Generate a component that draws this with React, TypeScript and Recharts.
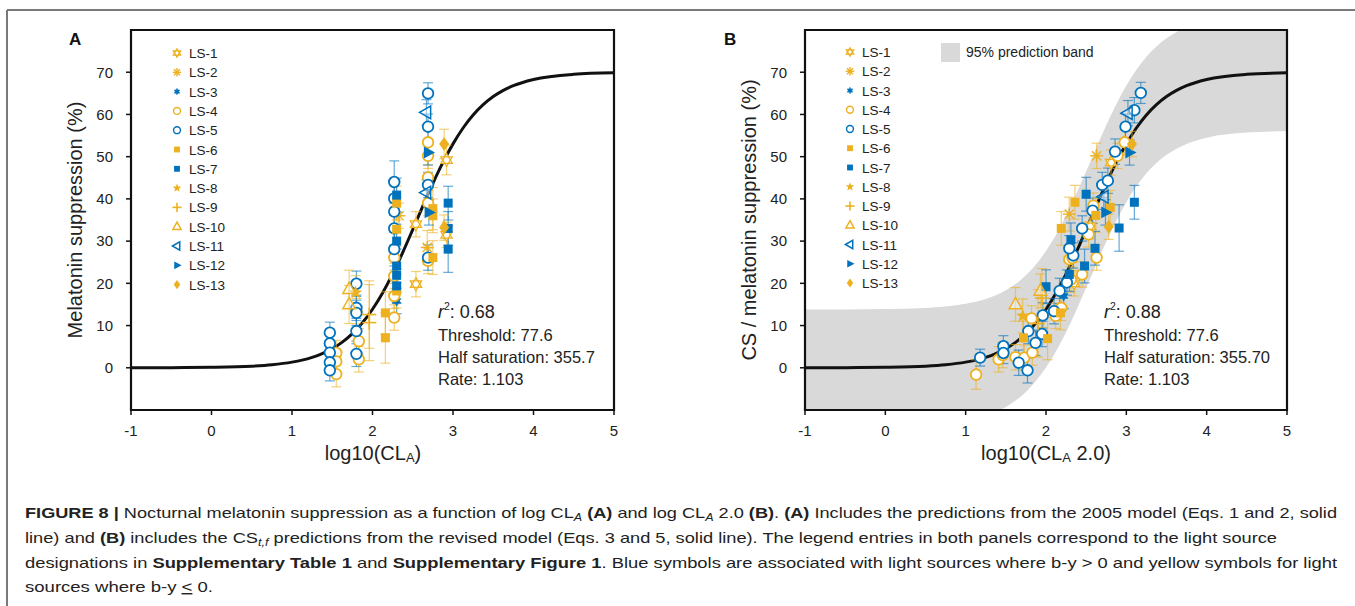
import React from 'react';
import { ComposedChart, Scatter, Line, Area, XAxis, YAxis, ErrorBar, ReferenceArea } from 'recharts';

const FONT = "'Liberation Sans', Arial, Helvetica, sans-serif";
const YELLOW = '#EDB120';
const BLUE = '#0072BD';

const X_TICKS = [-1, 0, 1, 2, 3, 4, 5];
const Y_TICKS = [0, 10, 20, 30, 40, 50, 60, 70];

// fitted curve (x = log10 CLA, y = suppression %)
const CURVE_X = [-1, -0.5, 0, 0.5, 0.75, 1, 1.125, 1.25, 1.375, 1.5, 1.625, 1.75, 1.875, 2, 2.125, 2.25, 2.375, 2.5, 2.625, 2.75, 2.875, 3, 3.125, 3.25, 3.375, 3.5, 3.625, 3.75, 4, 4.5, 5];
const CURVE_Y = [0.01, 0.03, 0.11, 0.38, 0.72, 1.34, 1.82, 2.48, 3.37, 4.54, 6.08, 8.09, 10.66, 13.86, 17.72, 22.24, 27.3, 32.74, 38.28, 43.67, 48.64, 53.03, 56.79, 59.86, 62.31, 64.23, 65.7, 66.82, 68.28, 69.51, 69.86];
// 95% prediction band (panel B)
const BAND_LOW = [-13.79, -13.77, -13.69, -13.42, -13.08, -12.46, -11.98, -11.32, -10.43, -9.26, -7.72, -5.71, -3.14, 0.06, 3.92, 8.44, 13.5, 18.94, 24.48, 29.87, 34.84, 39.23, 42.99, 46.06, 48.51, 50.43, 51.9, 53.02, 54.48, 55.71, 56.06];
const BAND_HIGH = [13.81, 13.83, 13.91, 14.18, 14.52, 15.14, 15.62, 16.28, 17.17, 18.34, 19.88, 21.89, 24.46, 27.66, 31.52, 36.04, 41.1, 46.54, 52.08, 57.47, 62.44, 66.83, 70.59, 73.66, 76.11, 78.03, 79.5, 80.62, 82.08, 83.31, 83.66];

const CURVE = CURVE_X.map((x, i) => ({ x, y: CURVE_Y[i] }));
const BAND = CURVE_X.map((x, i) => ({ x, band: [BAND_LOW[i], BAND_HIGH[i]] }));

type P = { x: number; y: number; e: number };
const pts = (a: number[][]): P[] => a.map(([x, y, e]) => ({ x, y, e }));

// Panel A data: [log10 CLA, suppression, error]
const LS1_A = pts([[2.54, 34.0, 3], [2.54, 19.8, 3], [2.92, 49.2, 3.5], [2.92, 31.5, 3]]);
const LS2_A = pts([[2.33, 36.0, 3], [2.68, 28.5, 4]]);
const LS3_A = pts([[2.3, 15.8, 3]]);
const LS4_A = pts([[1.55, 3.5, 3], [1.55, 1.5, 3], [1.55, -1.5, 3], [1.83, 6.3, 3], [1.83, 2.0, 3], [1.8, 13.4, 3], [2.27, 11.9, 3], [2.27, 17.0, 3], [2.27, 21.7, 3], [2.27, 26.1, 3], [2.69, 53.4, 3], [2.69, 50.2, 3], [2.69, 45.1, 3], [2.69, 39.0, 3], [2.69, 25.3, 3]]);
const LS5_A = pts([[1.47, 8.3, 2.5], [1.47, 5.8, 2.5], [1.47, 3.6, 2.5], [1.47, 1.3, 2.5], [1.47, -0.6, 2.5], [1.8, 19.9, 3], [1.8, 14.2, 3], [1.8, 13.0, 3], [1.8, 8.7, 3], [1.8, 3.3, 3], [2.27, 44.0, 5], [2.27, 40.1, 4], [2.27, 37.0, 4], [2.27, 33.0, 4], [2.27, 28.1, 4], [2.69, 65.0, 2.5], [2.69, 57.1, 3], [2.69, 43.3, 3], [2.69, 26.1, 3]]);
const LS6_A = pts([[2.16, 13.0, 5], [2.16, 7.1, 6], [2.3, 39.0, 4], [2.3, 32.8, 4], [2.3, 18.2, 4], [2.75, 37.7, 5], [2.75, 36.0, 4], [2.75, 26.1, 4]]);
const LS7_A = pts([[2.3, 40.9, 4], [2.3, 30.0, 4], [2.3, 24.1, 4], [2.3, 21.9, 4], [2.3, 19.4, 4], [2.94, 39.0, 4], [2.94, 33.0, 4], [2.94, 28.1, 5.5]]);
const LS8_A = pts([[1.79, 17.8, 4]]);
const LS9_A = pts([[1.96, 12.6, 8], [1.96, 10.7, 9]]);
const LS10_A = pts([[1.71, 18.6, 4.5], [1.71, 15.0, 4.5]]);
const LS11_A = pts([[2.67, 60.5, 3], [2.67, 41.5, 3]]);
const LS12_A = pts([[2.7, 36.8, 3], [2.69, 51.0, 3]]);
const LS13_A = pts([[2.89, 53.0, 3.5], [2.89, 33.2, 3]]);

// Panel B data: [log10 CLA 2.0, CS / suppression, error]
const LS1_B = pts([[2.81, 48.6, 3], [2.55, 33.5, 3], [2.35, 20.0, 3]]);
const LS2_B = pts([[2.29, 36.4, 4], [2.63, 50.2, 3]]);
const LS3_B = pts([[2.22, 17.0, 3]]);
const LS4_B = pts([[1.13, -1.6, 3.5], [1.41, 2.0, 3], [1.46, 3.0, 3], [1.62, 2.5, 3], [1.73, 2.4, 3], [1.83, 3.6, 3], [1.82, 11.7, 3], [2.12, 12.3, 3], [2.19, 14.2, 3], [2.31, 20.9, 3], [2.29, 25.7, 3], [2.33, 26.0, 3], [2.45, 22.1, 3], [2.63, 26.1, 3], [2.53, 31.6, 3], [2.59, 38.4, 3], [2.89, 50.2, 3], [2.98, 53.4, 3]]);
const LS5_B = pts([[1.18, 2.4, 2], [1.47, 5.1, 2.5], [1.47, 3.5, 2.5], [1.66, 1.2, 3], [1.77, -0.6, 3], [1.78, 8.7, 3], [1.87, 5.9, 3], [1.95, 8.0, 3], [1.96, 12.4, 3], [2.1, 13.4, 3], [2.17, 18.2, 3], [2.26, 20.2, 3], [2.34, 26.6, 3], [2.29, 28.3, 3], [2.45, 33.0, 3], [2.58, 37.2, 3], [2.7, 43.3, 3], [2.77, 44.3, 3], [2.86, 51.2, 3], [2.99, 57.1, 3], [3.1, 61.0, 3], [3.18, 65.1, 2.5]]);
const LS6_B = pts([[1.72, 7.1, 4], [2.02, 6.9, 5], [2.18, 13.0, 4], [2.19, 33.0, 4], [2.36, 39.2, 4], [2.62, 36.1, 4], [2.8, 38.0, 4]]);
const LS7_B = pts([[2.0, 19.2, 4], [2.29, 22.1, 4], [2.31, 30.3, 4], [2.48, 24.1, 4], [2.5, 41.1, 4], [2.61, 28.3, 4], [2.91, 33.1, 5.5], [3.1, 39.2, 4]]);
const LS8_B = pts([[1.71, 12.3, 4]]);
const LS9_B = pts([[1.9, 10.5, 8], [1.95, 16.5, 7]]);
const LS10_B = pts([[1.62, 15.0, 4], [1.93, 18.2, 4]]);
const LS11_B = pts([[2.72, 40.5, 3], [3.02, 60.3, 3]]);
const LS12_B = pts([[2.74, 36.8, 3], [3.04, 51.0, 3]]);
const LS13_B = pts([[2.78, 33.4, 3], [3.07, 53.0, 3]]);

const SERIES_NAMES = ['LS-1', 'LS-2', 'LS-3', 'LS-4', 'LS-5', 'LS-6', 'LS-7', 'LS-8', 'LS-9', 'LS-10', 'LS-11', 'LS-12', 'LS-13'];
const SERIES_COLORS = [YELLOW, YELLOW, BLUE, YELLOW, BLUE, YELLOW, BLUE, YELLOW, YELLOW, YELLOW, BLUE, BLUE, YELLOW];
const SERIES_KINDS = ['hexagram', 'burst', 'smallstar', 'circle', 'circle', 'square', 'square', 'star', 'plus', 'triUp', 'triLeft', 'triRight', 'diamond'];
const DATA_A = [LS1_A, LS2_A, LS3_A, LS4_A, LS5_A, LS6_A, LS7_A, LS8_A, LS9_A, LS10_A, LS11_A, LS12_A, LS13_A];
const DATA_B = [LS1_B, LS2_B, LS3_B, LS4_B, LS5_B, LS6_B, LS7_B, LS8_B, LS9_B, LS10_B, LS11_B, LS12_B, LS13_B];

function starPts(cx: number, cy: number, n: number, ro: number, ri: number, rot = -90) {
  const a: string[] = [];
  for (let i = 0; i < n * 2; i++) {
    const r = i % 2 === 0 ? ro : ri;
    const ang = ((rot + (i * 180) / n) * Math.PI) / 180;
    a.push(`${cx + r * Math.cos(ang)},${cy + r * Math.sin(ang)}`);
  }
  return a.join(' ');
}

function Marker({ kind, cx, cy, color, s = 1 }: { kind: string; cx: number; cy: number; color: string; s?: number }) {
  if (cx == null || cy == null || isNaN(cx) || isNaN(cy)) return <g />;
  switch (kind) {
    case 'hexagram': {
      const r = 6.5 * s;
      const t1 = `${cx},${cy - r} ${cx + r * 0.866},${cy + r / 2} ${cx - r * 0.866},${cy + r / 2}`;
      const t2 = `${cx},${cy + r} ${cx + r * 0.866},${cy - r / 2} ${cx - r * 0.866},${cy - r / 2}`;
      return (
        <g>
          <polygon points={starPts(cx, cy, 6, r, r * 0.577)} fill="#fff" stroke="none" />
          <polygon points={t1} fill="none" stroke={color} strokeWidth={1.3} />
          <polygon points={t2} fill="none" stroke={color} strokeWidth={1.3} />
        </g>
      );
    }
    case 'burst': {
      const r = 6.5 * s;
      const lines = [];
      for (let i = 0; i < 8; i++) {
        const ang = (i * Math.PI) / 4;
        lines.push(<line key={i} x1={cx} y1={cy} x2={cx + r * Math.cos(ang)} y2={cy + r * Math.sin(ang)} stroke={color} strokeWidth={1.4} />);
      }
      return <g>{lines}<circle cx={cx} cy={cy} r={2 * s} fill={color} /></g>;
    }
    case 'smallstar':
      return <polygon points={starPts(cx, cy, 6, 5 * s, 2.8 * s)} fill={color} stroke={color} strokeWidth={0.5} />;
    case 'circle':
      return <circle cx={cx} cy={cy} r={5.3 * s} fill="#fff" stroke={color} strokeWidth={1.8 * Math.max(s, 0.8)} />;
    case 'square': {
      const h = 4.5 * s;
      return <rect x={cx - h} y={cy - h} width={2 * h} height={2 * h} fill={color} />;
    }
    case 'star':
      return <polygon points={starPts(cx, cy, 5, 7 * s, 3 * s)} fill={color} />;
    case 'plus': {
      const r = 7 * s;
      return (
        <g>
          <line x1={cx - r} y1={cy} x2={cx + r} y2={cy} stroke={color} strokeWidth={1.6} />
          <line x1={cx} y1={cy - r} x2={cx} y2={cy + r} stroke={color} strokeWidth={1.6} />
        </g>
      );
    }
    case 'triUp': {
      const r = 7 * s;
      return <polygon points={`${cx},${cy - r} ${cx + r * 0.9},${cy + r * 0.6} ${cx - r * 0.9},${cy + r * 0.6}`} fill="#fff" fillOpacity={0.4} stroke={color} strokeWidth={1.5} />;
    }
    case 'triLeft': {
      const r = 7 * s;
      return <polygon points={`${cx - r},${cy} ${cx + r * 0.6},${cy - r * 0.9} ${cx + r * 0.6},${cy + r * 0.9}`} fill="#fff" fillOpacity={0.4} stroke={color} strokeWidth={1.5} />;
    }
    case 'triRight': {
      const r = 7 * s;
      return <polygon points={`${cx + r},${cy} ${cx - r * 0.6},${cy - r * 0.85} ${cx - r * 0.6},${cy + r * 0.85}`} fill={color} />;
    }
    case 'diamond': {
      const w = 5 * s, h = 7 * s;
      return <polygon points={`${cx},${cy - h} ${cx + w},${cy} ${cx},${cy + h} ${cx - w},${cy}`} fill={color} />;
    }
  }
  return <g />;
}

const TICK = { fontSize: 15, fill: '#222', fontFamily: FONT };

function Panel({ left, width, axisW, marginRight, data, band }: { left: number; width: number; axisW: number; marginRight: number; data: P[][]; band: boolean }) {
  return (
    <div style={{ position: 'absolute', left, top: 0 }}>
      <ComposedChart width={width} height={470} margin={{ top: 30, right: marginRight, bottom: 30, left: 0 }}>
        <XAxis type="number" dataKey="x" domain={[-1, 5]} ticks={X_TICKS} allowDataOverflow axisLine={false}
          tickSize={5} tickMargin={10} height={30} tick={TICK} tickLine={{ stroke: '#111', strokeWidth: 1.5 }} />
        <YAxis type="number" dataKey="y" domain={[-10, 80]} ticks={Y_TICKS} allowDataOverflow axisLine={false}
          width={axisW} tickSize={5} tickMargin={13} tick={TICK} tickLine={{ stroke: '#111', strokeWidth: 1.5 }} />
        {band && (
          <Area data={BAND} dataKey="band" type="monotone" fill="#d9d9d9" fillOpacity={1} stroke="none" isAnimationActive={false} />
        )}
        <Line data={CURVE} dataKey="y" type="monotone" stroke="#111" strokeWidth={3} dot={false} isAnimationActive={false} />
        {data.map((d, i) => (
          <Scatter key={SERIES_NAMES[i]} name={SERIES_NAMES[i]} data={d} isAnimationActive={false}
            shape={(p: any) => <Marker kind={SERIES_KINDS[i]} cx={p.cx} cy={p.cy} color={SERIES_COLORS[i]} />}>
            <ErrorBar dataKey="e" direction="y" width={5} stroke={SERIES_COLORS[i]} strokeOpacity={0.6} strokeWidth={1.2} />
          </Scatter>
        ))}
        <ReferenceArea x1={-1} x2={5} y1={-10} y2={80} fill="none" stroke="#111" strokeWidth={2.2} ifOverflow="visible" />
      </ComposedChart>
    </div>
  );
}

function Legend({ mx, tx, y0, dy }: { mx: number; tx: number; y0: number; dy: number }) {
  return (
    <g>
      {SERIES_NAMES.map((n, i) => (
        <g key={n}>
          <Marker kind={SERIES_KINDS[i]} cx={mx} cy={y0 + i * dy} color={SERIES_COLORS[i]} s={0.65} />
          <text x={tx} y={y0 + i * dy + 5} fontSize={13.5} fill="#222" fontFamily={FONT}>{n}</text>
        </g>
      ))}
    </g>
  );
}

function Stats({ x, y0, r2, half }: { x: number; y0: number; r2: string; half: string }) {
  return (
    <g fontFamily={FONT} fill="#222">
      <text x={x} y={y0} fontSize={18}>
        <tspan fontStyle="italic">r</tspan>
        <tspan fontSize={10.5} dy={-8}>2</tspan>
        <tspan dy={8}>{': ' + r2}</tspan>
      </text>
      <text x={x} y={y0 + 23} fontSize={16.5}>Threshold: 77.6</text>
      <text x={x} y={y0 + 45} fontSize={16.5}>{half}</text>
      <text x={x} y={y0 + 67} fontSize={16.5}>Rate: 1.103</text>
    </g>
  );
}

export default function App() {
  return (
    <div style={{ position: 'absolute', left: 0, top: 0, width: 1355, height: 606, background: '#fff', overflow: 'hidden' }}>
      <Panel left={0} width={680} axisW={131} marginRight={66} data={DATA_A} band={false} />
      <Panel left={680} width={675} axisW={125} marginRight={68} data={DATA_B} band={true} />
      <svg width={1355} height={606} style={{ position: 'absolute', left: 0, top: 0, pointerEvents: 'none' }}>
        <line x1={7} y1={10} x2={1355} y2={10} stroke="#7a7a7a" strokeWidth={2} />
        <line x1={7} y1={10} x2={7} y2={606} stroke="#7a7a7a" strokeWidth={2} />

        <text x={69} y={45} fontSize={17} fontWeight="bold" fontFamily={FONT} fill="#111">A</text>
        <text x={724} y={45} fontSize={17} fontWeight="bold" fontFamily={FONT} fill="#111">B</text>

        <text transform="translate(82,220) rotate(-90)" textAnchor="middle" fontSize={20} fontFamily={FONT} fill="#222">Melatonin suppression (%)</text>
        <text transform="translate(756,220) rotate(-90)" textAnchor="middle" fontSize={20} fontFamily={FONT} fill="#222">CS / melatonin suppression (%)</text>

        <text x={373} y={460} textAnchor="middle" fontSize={20} fontFamily={FONT} fill="#222">
          log10(CL<tspan fontSize={13} dy={2}>A</tspan><tspan dy={-2}>)</tspan>
        </text>
        <text x={1046} y={460} textAnchor="middle" fontSize={20} fontFamily={FONT} fill="#222">
          log10(CL<tspan fontSize={13} dy={2}>A</tspan><tspan dy={-2}> 2.0)</tspan>
        </text>

        <Legend mx={177} tx={189} y0={53} dy={19.3} />
        <Legend mx={850} tx={862} y0={52} dy={19.25} />
        <rect x={941} y={43} width={19} height={19} fill="#d9d9d9" />
        <text x={966} y={57} fontSize={14} fontFamily={FONT} fill="#222">95% prediction band</text>

        <Stats x={438} y0={318} r2="0.68" half="Half saturation: 355.7" />
        <Stats x={1104} y0={318} r2="0.88" half="Half saturation: 355.70" />

        <g fontFamily={FONT} fontSize={14.5} fill="#222">
          <text x={25} y={518} textLength={1312} lengthAdjust="spacingAndGlyphs">
            <tspan fontWeight="bold">FIGURE 8 | </tspan>Nocturnal melatonin suppression as a function of log CL<tspan fontStyle="italic" fontSize={10} dy={3}>A</tspan><tspan dy={-3}> </tspan><tspan fontWeight="bold">(A)</tspan> and log CL<tspan fontStyle="italic" fontSize={10} dy={3}>A</tspan><tspan dy={-3}> 2.0 </tspan><tspan fontWeight="bold">(B)</tspan>. <tspan fontWeight="bold">(A)</tspan> Includes the predictions from the 2005 model (Eqs. 1 and 2, solid
          </text>
          <text x={25} y={543} textLength={1252} lengthAdjust="spacingAndGlyphs">
            line) and <tspan fontWeight="bold">(B)</tspan> includes the CS<tspan fontStyle="italic" fontSize={10} dy={3}>t,f</tspan><tspan dy={-3}> predictions from the revised model (Eqs. 3 and 5, solid line). The legend entries in both panels correspond to the light source</tspan>
          </text>
          <text x={25} y={568} textLength={1312} lengthAdjust="spacingAndGlyphs">
            designations in <tspan fontWeight="bold">Supplementary Table 1</tspan> and <tspan fontWeight="bold">Supplementary Figure 1</tspan>. Blue symbols are associated with light sources where b-y &gt; 0 and yellow symbols for light
          </text>
          <text x={25} y={592} textLength={188} lengthAdjust="spacingAndGlyphs">
            sources where b-y <tspan textDecoration="underline">&lt;</tspan> 0.
          </text>
        </g>
      </svg>
    </div>
  );
}
